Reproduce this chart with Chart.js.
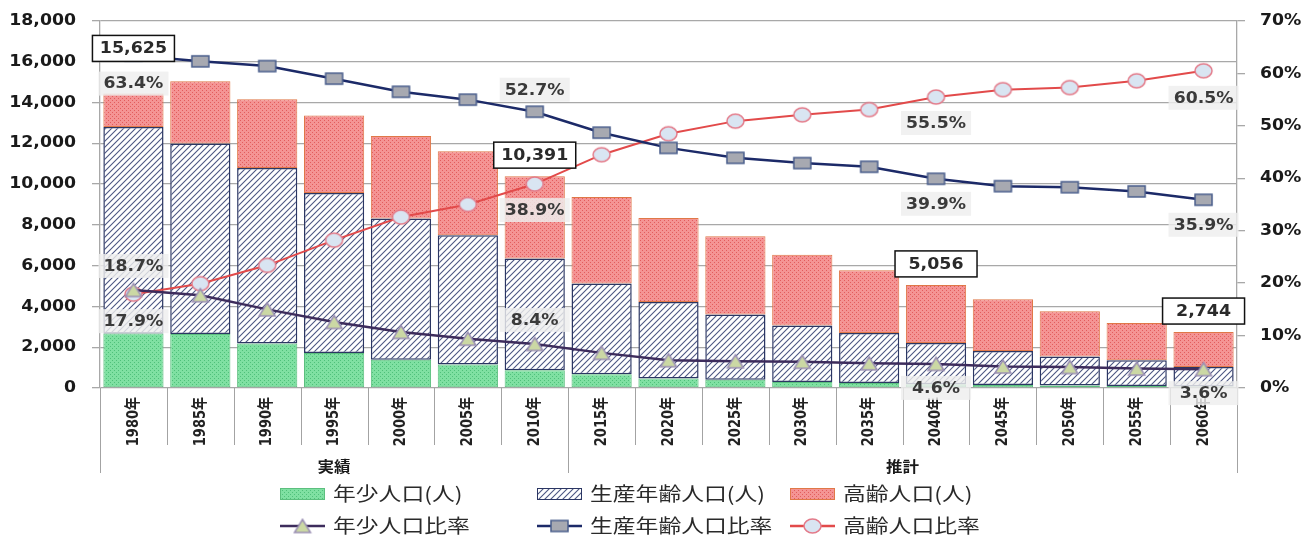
<!DOCTYPE html>
<html>
<head>
<meta charset="utf-8">
<script src="https://cdn.jsdelivr.net/npm/chart.js@4.4.1/dist/chart.umd.min.js"></script>
<style>
  html, body { margin: 0; padding: 0; background: #fff; }
  #wrap { width: 1307px; height: 535px; }
</style>
</head>
<body>
<div id="wrap"><canvas id="c" width="1307" height="535"></canvas></div>
<script>
// categories and groups
const years = ["1980年", "1985年", "1990年", "1995年", "2000年", "2005年", "2010年", "2015年", "2020年",
  "2025年", "2030年", "2035年", "2040年", "2045年", "2050年", "2055年", "2060年"];
const groupNames = ["実績", "推計"];
const groupSizes = [7, 10];

// population (persons), stacked
const youngPop   = [2670, 2650, 2180, 1720, 1390, 1150, 870, 670, 460, 410, 290, 250, 190, 150, 120, 100, 70];
const workingPop = [10130, 9340, 8610, 7840, 6920, 6340, 5480, 4450, 3760, 3200, 2780, 2450, 2020, 1660, 1430, 1260, 960];
const elderlyPop = [1640, 3050, 3370, 3810, 4050, 4120, 4040, 4250, 4120, 3830, 3470, 3070, 2846, 2540, 2210, 1830, 1714];

// ratios (%)
const youngRatio   = [18.7, 17.7, 15.0, 12.6, 10.7, 9.4, 8.4, 6.7, 5.3, 5.1, 5.0, 4.7, 4.6, 4.1, 4.0, 3.7, 3.6];
const workingRatio = [63.4, 62.3, 61.4, 59.0, 56.5, 55.0, 52.7, 48.7, 45.8, 43.9, 42.9, 42.2, 39.9, 38.5, 38.3, 37.5, 35.9];
const elderlyRatio = [17.9, 19.9, 23.4, 28.2, 32.6, 35.0, 38.9, 44.5, 48.5, 50.9, 52.1, 53.1, 55.5, 56.9, 57.3, 58.6, 60.5];

// total population labels
const totalIdx = [0, 6, 12, 16];
const totalVals = [15625, 10391, 5056, 2744];

// ratio labels: which series, which year
const labelSeries = ["working", "young", "elderly", "working", "elderly", "young",
  "elderly", "working", "young", "elderly", "working", "young"];
const labelIdx = [0, 0, 0, 6, 6, 6, 12, 12, 12, 16, 16, 16];
const labelDy = [28, -24, 27, -22, 26, -24, 26, 25, 24, 27, 25, 24];

const legendBars = ["年少人口(人)", "生産年齢人口(人)", "高齢人口(人)"];
const legendLines = ["年少人口比率", "生産年齢人口比率", "高齢人口比率"];

const canvas = document.getElementById("c");
const ctx = canvas.getContext("2d");

const LATIN = '"DejaVu Sans", "Noto Sans CJK JP", sans-serif';
const CJK = '"Noto Sans CJK JP", "Noto Sans", sans-serif';

function dotPattern(base, dot) {
  const c = document.createElement("canvas");
  c.width = 4; c.height = 4;
  const x = c.getContext("2d");
  x.fillStyle = base; x.fillRect(0, 0, 4, 4);
  x.fillStyle = dot; x.fillRect(0, 0, 1, 1); x.fillRect(2, 2, 1, 1);
  return ctx.createPattern(c, "repeat");
}

function hatchPattern() {
  const s = 6;
  const c = document.createElement("canvas");
  c.width = s; c.height = s;
  const x = c.getContext("2d");
  x.fillStyle = "#ffffff"; x.fillRect(0, 0, s, s);
  x.strokeStyle = "#4c5782"; x.lineWidth = 1.1;
  x.beginPath();
  x.moveTo(0, s); x.lineTo(s, 0);
  x.moveTo(-1, 1); x.lineTo(1, -1);
  x.moveTo(s - 1, s + 1); x.lineTo(s + 1, s - 1);
  x.stroke();
  return ctx.createPattern(c, "repeat");
}

function marker(shape, w, h, fill, stroke) {
  const c = document.createElement("canvas");
  c.width = w + 4; c.height = h + 4;
  const x = c.getContext("2d");
  x.fillStyle = fill; x.strokeStyle = stroke; x.lineWidth = 1.5;
  x.beginPath();
  if (shape === "rect") {
    x.rect(2, 2, w, h);
  } else if (shape === "ellipse") {
    x.ellipse(2 + w / 2, 2 + h / 2, w / 2, h / 2, 0, 0, Math.PI * 2);
  } else {
    x.moveTo(2 + w / 2, 2); x.lineTo(2 + w, 2 + h); x.lineTo(2, 2 + h); x.closePath();
  }
  x.fill(); x.stroke();
  return c;
}

const greenFill = dotPattern("#7fe0a2", "#4fc07a");
const redFill = dotPattern("#f49494", "#e25c5c");
const hatchFill = hatchPattern();

const triMark = marker("tri", 16, 13, "#cbd8a4", "#9a8fb3");
const sqMark = marker("rect", 17, 11, "#a7a9b1", "#4a5e8c");
const cirMark = marker("ellipse", 17, 14, "#d9e5f2", "#e37b8a");

const seriesColors = {
  young: "#3d2c5c",
  working: "#1c2a68",
  elderly: "#e24a4a"
};

function sText(c, txt, x, y, font, sx, align, color) {
  c.save();
  c.font = font;
  c.fillStyle = color;
  c.textBaseline = "middle";
  c.textAlign = align;
  c.translate(x, y);
  c.scale(sx, 1);
  c.fillText(txt, 0, 0);
  c.restore();
}

const decorations = {
  id: "decorations",
  afterDraw(chart) {
    const c = chart.ctx;
    const xs = chart.scales.x, ys = chart.scales.y, y1 = chart.scales.y1;
    const area = chart.chartArea;
    const cw = (area.right - area.left) / years.length;

    // left tick labels
    ys.ticks.forEach(t => {
      sText(c, t.value.toLocaleString("en-US"), 76, ys.getPixelForValue(t.value),
        "bold 16px " + LATIN, 1.08, "right", "#1a1a1a");
    });
    // right tick labels
    y1.ticks.forEach(t => {
      sText(c, t.value + "%", 1260, y1.getPixelForValue(t.value),
        "bold 16px " + LATIN, 1.08, "left", "#1a1a1a");
    });

    // category separators and labels
    const base = area.bottom;
    c.save();
    c.strokeStyle = "#a3a3a3";
    c.lineWidth = 1;
    const groupEdges = [0];
    groupSizes.reduce((acc, n) => { groupEdges.push(acc + n); return acc + n; }, 0);
    for (let i = 0; i <= years.length; i++) {
      const x = Math.round(area.left + i * cw) + 0.5;
      const long = groupEdges.includes(i);
      c.beginPath();
      c.moveTo(x, base);
      c.lineTo(x, long ? base + 85 : base + 57);
      c.stroke();
    }
    c.restore();

    years.forEach((yr, i) => {
      const x = xs.getPixelForValue(i);
      c.save();
      c.translate(x, base + 9);
      c.rotate(-Math.PI / 2);
      c.scale(1, 1.25);
      c.font = "bold 13px " + LATIN;
      c.fillStyle = "#222222";
      c.textAlign = "right";
      c.textBaseline = "middle";
      c.fillText(yr, 0, 0);
      c.restore();
    });

    groupNames.forEach((g, k) => {
      const x0 = area.left + groupEdges[k] * cw;
      const x1 = area.left + groupEdges[k + 1] * cw;
      sText(c, g, (x0 + x1) / 2, base + 78, "bold 15px " + CJK, 1.1, "center", "#1a1a1a");
    });

    // total labels (boxed)
    totalIdx.forEach((idx, k) => {
      const x = xs.getPixelForValue(idx);
      const y = ys.getPixelForValue(totalVals[k]) - 21;
      c.save();
      c.fillStyle = "#ffffff";
      c.strokeStyle = "#111111";
      c.lineWidth = 1.5;
      c.fillRect(x - 41, y - 13, 82, 26);
      c.strokeRect(x - 41, y - 13, 82, 26);
      c.restore();
      sText(c, totalVals[k].toLocaleString("en-US"), x, y + 1, "bold 15px " + LATIN, 1.16, "center", "#2a2a2a");
    });

    // ratio labels
    const ratios = { young: youngRatio, working: workingRatio, elderly: elderlyRatio };
    labelSeries.forEach((s, k) => {
      const idx = labelIdx[k];
      const v = ratios[s][idx];
      const x = xs.getPixelForValue(idx);
      const y = y1.getPixelForValue(v) + labelDy[k];
      c.save();
      c.fillStyle = "rgba(238,238,238,0.82)";
      c.fillRect(x - 35, y - 12, 70, 24);
      c.restore();
      sText(c, v.toFixed(1) + "%", x, y + 1, "bold 15px " + LATIN, 1.15, "center", "#3a3a3a");
    });

    // legend
    const cols = [280, 537, 790];
    const row1 = 494, row2 = 526;
    const fills = [greenFill, hatchFill, redFill];
    const borders = ["#5cbf7e", "#2b3663", "#e07848"];
    legendBars.forEach((t, k) => {
      c.save();
      c.fillStyle = fills[k];
      c.fillRect(cols[k], row1 - 6, 45, 12);
      c.strokeStyle = borders[k];
      c.lineWidth = 1;
      c.strokeRect(cols[k] + 0.5, row1 - 5.5, 44, 11);
      c.restore();
      sText(c, t, cols[k] + 53, row1, "19px " + CJK, 1.2, "left", "#2a2a2a");
    });
    const lineCols = [seriesColors.young, seriesColors.working, seriesColors.elderly];
    const marks = [triMark, sqMark, cirMark];
    legendLines.forEach((t, k) => {
      c.save();
      c.strokeStyle = lineCols[k];
      c.lineWidth = 2.5;
      c.beginPath();
      c.moveTo(cols[k], row2);
      c.lineTo(cols[k] + 45, row2);
      c.stroke();
      const m = marks[k];
      c.drawImage(m, cols[k] + 22.5 - m.width / 2, row2 - m.height / 2);
      c.restore();
      sText(c, t, cols[k] + 53, row2, "19px " + CJK, 1.2, "left", "#2a2a2a");
    });
  }
};

new Chart(canvas, {
  type: "bar",
  data: {
    labels: years,
    datasets: [
      {
        type: "line", label: legendLines[0], data: youngRatio, yAxisID: "y1", order: 0,
        borderColor: seriesColors.young, borderWidth: 2.5, tension: 0,
        pointStyle: triMark, pointRadius: 8
      },
      {
        type: "line", label: legendLines[1], data: workingRatio, yAxisID: "y1", order: 0,
        borderColor: seriesColors.working, borderWidth: 2.5, tension: 0,
        pointStyle: sqMark, pointRadius: 8
      },
      {
        type: "line", label: legendLines[2], data: elderlyRatio, yAxisID: "y1", order: 0,
        borderColor: seriesColors.elderly, borderWidth: 2, tension: 0,
        pointStyle: cirMark, pointRadius: 8
      },
      {
        label: legendBars[0], data: youngPop, yAxisID: "y", order: 1, stack: "pop",
        backgroundColor: greenFill, borderColor: "#5cbf7e", borderWidth: 1, borderSkipped: false
      },
      {
        label: legendBars[1], data: workingPop, yAxisID: "y", order: 1, stack: "pop",
        backgroundColor: hatchFill, borderColor: "#2b3663", borderWidth: 1.5, borderSkipped: false
      },
      {
        label: legendBars[2], data: elderlyPop, yAxisID: "y", order: 1, stack: "pop",
        backgroundColor: redFill, borderColor: "#e07848", borderWidth: 1, borderSkipped: false
      }
    ]
  },
  options: {
    responsive: false,
    animation: false,
    events: [],
    layout: { padding: { top: 21, left: 0, right: 0, bottom: 0 } },
    datasets: {
      bar: { barPercentage: 0.9, categoryPercentage: 1.0 }
    },
    scales: {
      x: {
        stacked: true,
        offset: true,
        grid: { display: false },
        border: { display: false },
        ticks: { display: false },
        afterFit(scale) { scale.height = 147; }
      },
      y: {
        stacked: true,
        position: "left",
        min: 0, max: 18000,
        ticks: { display: false, stepSize: 2000 },
        grid: { color: "#a8a8a8", lineWidth: 1.3, tickLength: 8, tickColor: "#a8a8a8" },
        border: { display: true, color: "#a8a8a8", width: 1.3 },
        afterFit(scale) { scale.width = 100; }
      },
      y1: {
        position: "right",
        min: 0, max: 70,
        ticks: { display: false, stepSize: 10 },
        grid: { drawOnChartArea: false, tickLength: 8, color: "#a8a8a8", lineWidth: 1.3 },
        border: { display: true, color: "#a8a8a8", width: 1.3 },
        afterFit(scale) { scale.width = 70; }
      }
    },
    plugins: {
      legend: { display: false },
      tooltip: { enabled: false }
    }
  },
  plugins: [decorations]
});
</script>
</body>
</html>
